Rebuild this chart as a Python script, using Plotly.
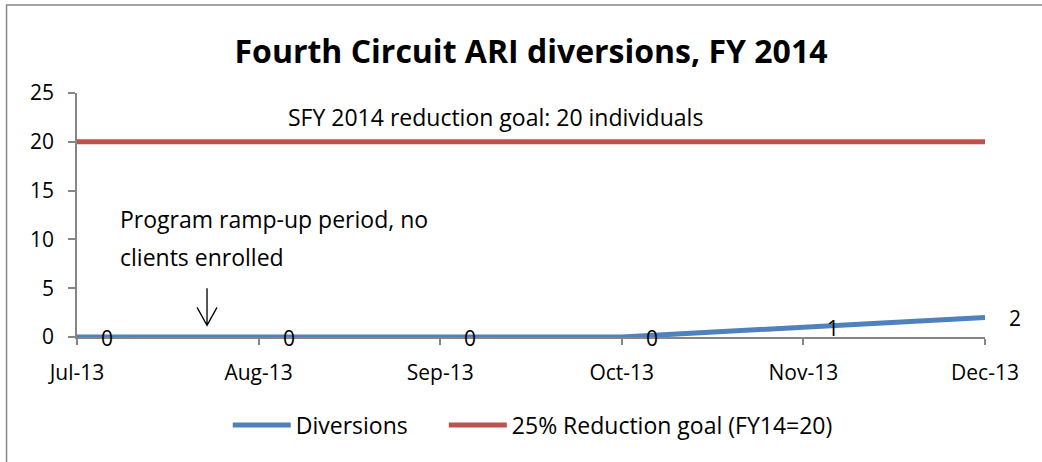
import plotly.graph_objects as go

months = ["Jul-13", "Aug-13", "Sep-13", "Oct-13", "Nov-13", "Dec-13"]
diversions = [0, 0, 0, 0, 1, 2]
goal = [20, 20, 20, 20, 20, 20]
yticks = [0, 5, 10, 15, 20, 25]

FONT = "Open Sans"
xs = list(range(len(months)))

fig = go.Figure()
fig.add_trace(go.Scatter(x=xs, y=goal, mode="lines", name="25% Reduction goal (FY14=20)",
                         line=dict(color="#C0504D", width=5), legend="legend2",
                         showlegend=True))
fig.add_trace(go.Scatter(x=xs, y=diversions, mode="lines", name="Diversions",
                         line=dict(color="#4F81BD", width=5), legend="legend",
                         showlegend=True))

annotations = []
for x, v in zip(xs, diversions):
    annotations.append(dict(x=x, y=v, xref="x", yref="y", text=str(v), showarrow=False,
                            xanchor="center", yanchor="middle", xshift=30, yshift=-1,
                            font=dict(family=FONT, size=21, color="black")))

annotations += [
    dict(x=1.15, y=22.5, xref="x", yref="y", text="SFY 2014 reduction goal: 20 individuals",
         showarrow=False, xanchor="left", yanchor="middle",
         font=dict(family=FONT, size=23, color="black")),
    dict(x=0.226, y=12.06, xref="x", yref="y", text="Program ramp-up period, no",
         showarrow=False, xanchor="left", yanchor="middle",
         font=dict(family=FONT, size=23, color="black")),
    dict(x=0.226, y=8.17, xref="x", yref="y", text="clients enrolled",
         showarrow=False, xanchor="left", yanchor="middle",
         font=dict(family=FONT, size=23, color="black")),
]

# arrow pointing down toward the ramp-up period
AX, AY_TOP, AY_TIP = 0.716, 4.99, 1.2
HEAD_DX, HEAD_DY = 0.055, 1.84
arrow_path = (f"M {AX},{AY_TOP} L {AX},{AY_TIP} "
              f"M {AX - HEAD_DX},{AY_TIP + HEAD_DY} L {AX},{AY_TIP} L {AX + HEAD_DX},{AY_TIP + HEAD_DY}")

shapes = [
    dict(type="rect", xref="paper", yref="paper", x0=-0.0776, x1=1.2,
         y0=-0.7, y1=1 + (93 - 5) / 244, line=dict(color="#868686", width=1.5),
         fillcolor="rgba(0,0,0,0)", layer="below"),
    dict(type="path", xref="x", yref="y", path=arrow_path,
         line=dict(color="black", width=1.3)),
]

legend_style = dict(orientation="h", xanchor="left", y=-0.361, yanchor="middle",
                    itemwidth=58, font=dict(family=FONT, size=23, color="black"),
                    bgcolor="rgba(0,0,0,0)", visible=True)

fig.update_layout(
    width=1042, height=462,
    margin=dict(l=77, r=57, t=93, b=125),
    paper_bgcolor="white", plot_bgcolor="white",
    font=dict(family=FONT, size=21, color="black"),
    showlegend=True,
    title=dict(text="<b>Fourth Circuit ARI diversions, FY 2014</b>", x=0.5, xref="paper",
               y=1 - 52 / 462, yref="container", xanchor="center", yanchor="middle",
               font=dict(family=FONT, size=32, color="black")),
    xaxis=dict(range=[0, 5], tickmode="array", tickvals=xs, ticktext=months,
               showgrid=False, zeroline=False, showline=True, linecolor="#868686",
               linewidth=1.5, ticks="outside", ticklen=6, tickcolor="#868686",
               tickwidth=1.5, ticklabelstandoff=10,
               tickfont=dict(family=FONT, size=21, color="black")),
    yaxis=dict(range=[0, 25], tickmode="array", tickvals=yticks,
               showgrid=False, zeroline=False, showline=True, linecolor="#868686",
               linewidth=1.5, ticks="outside", ticklen=7, tickcolor="#868686",
               tickwidth=1.5, ticklabelstandoff=10,
               tickfont=dict(family=FONT, size=21, color="black")),
    legend=dict(x=0.166, **legend_style),
    legend2=dict(x=0.404, **legend_style),
    annotations=annotations,
    shapes=shapes,
    hovermode=False,
)
fig.update_traces(cliponaxis=False)

fig.write_html("out.html", config={"displayModeBar": False},
               post_script="document.body.style.margin='0';")
